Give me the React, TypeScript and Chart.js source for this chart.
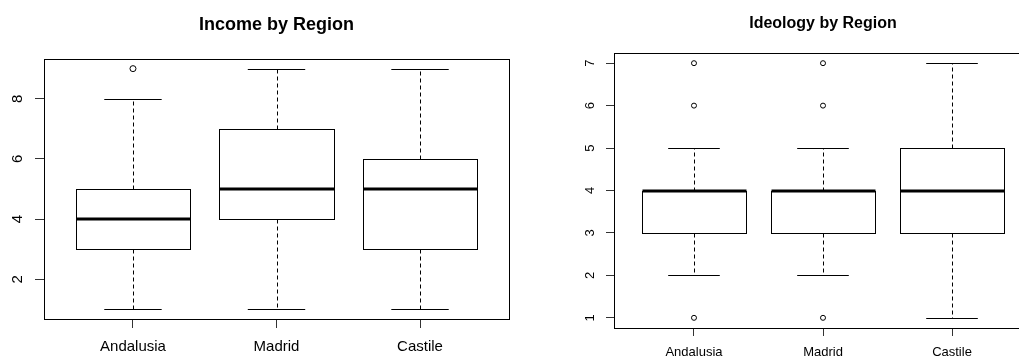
import React, { useEffect, useRef } from "react";
import { Chart, registerables } from "chart.js";

Chart.register(...registerables);

// ---- Data ----
const regions = ["Andalusia", "Madrid", "Castile"];

// Income by Region (box-plot statistics)
const incomeWhiskerLow = [1, 1, 1];
const incomeQ1 = [3, 4, 3];
const incomeMedian = [4, 5, 5];
const incomeQ3 = [5, 7, 6];
const incomeWhiskerHigh = [8, 9, 9];
const incomeOutliers = [[9], [], []];
const incomeTicks = [2, 4, 6, 8];

// Ideology by Region (box-plot statistics)
const ideologyWhiskerLow = [2, 2, 1];
const ideologyQ1 = [3, 3, 3];
const ideologyMedian = [4, 4, 4];
const ideologyQ3 = [4, 4, 5];
const ideologyWhiskerHigh = [5, 5, 7];
const ideologyOutliers = [[1, 6, 7], [1, 6, 7], []];
const ideologyTicks = [1, 2, 3, 4, 5, 6, 7];

const FONT = "'Liberation Sans', Arial, Helvetica, sans-serif";

type PanelCfg = {
  title: string;
  lo: number[];
  q1: number[];
  med: number[];
  q3: number[];
  hi: number[];
  outliers: number[][];
  ticks: number[];
  left: number;
  pad: { left: number; top: number; right: number; bottom: number };
  yWidth: number;
  xHeight: number;
  tickLen: number;
  tickFont: number;
  titleFont: number;
  titleY: number;
  yPad: number;
  xPad: number;
  pointR: number;
};

const panels: PanelCfg[] = [
  {
    title: "Income by Region",
    lo: incomeWhiskerLow,
    q1: incomeQ1,
    med: incomeMedian,
    q3: incomeQ3,
    hi: incomeWhiskerHigh,
    outliers: incomeOutliers,
    ticks: incomeTicks,
    left: 0,
    pad: { left: 0, top: 59, right: 11, bottom: 0 },
    yWidth: 44,
    xHeight: 41,
    tickLen: 9,
    tickFont: 15,
    titleFont: 18,
    titleY: 30,
    yPad: 13,
    xPad: 10,
    pointR: 3,
  },
  {
    title: "Ideology by Region",
    lo: ideologyWhiskerLow,
    q1: ideologyQ1,
    med: ideologyMedian,
    q3: ideologyQ3,
    hi: ideologyWhiskerHigh,
    outliers: ideologyOutliers,
    ticks: ideologyTicks,
    left: 520,
    pad: { left: 0, top: 53, right: 8, bottom: 0 },
    yWidth: 94,
    xHeight: 32,
    tickLen: 8,
    tickFont: 13,
    titleFont: 16,
    titleY: 28,
    yPad: 12,
    xPad: 9,
    pointR: 2.5,
  },
];

function makeBoxPlugin(p: PanelCfg) {
  return {
    id: "rbox",
    beforeDatasetsDraw(chart: any) {
      const { ctx, scales } = chart;
      const x = scales.x;
      const y = scales.y;
      ctx.save();
      ctx.strokeStyle = "#000";
      const line = (x1: number, y1: number, x2: number, y2: number) => {
        ctx.beginPath();
        ctx.moveTo(x1, y1);
        ctx.lineTo(x2, y2);
        ctx.stroke();
      };
      for (let i = 0; i < regions.length; i++) {
        const c = i + 1;
        const cx = Math.round(x.getPixelForValue(c)) + 0.5;
        const bl = x.getPixelForValue(c - 0.4);
        const br = x.getPixelForValue(c + 0.4);
        const sl = x.getPixelForValue(c - 0.2);
        const sr = x.getPixelForValue(c + 0.2);
        const yLo = Math.round(y.getPixelForValue(p.lo[i])) + 0.5;
        const yHi = Math.round(y.getPixelForValue(p.hi[i])) + 0.5;
        const yQ1 = Math.round(y.getPixelForValue(p.q1[i])) + 0.5;
        const yQ3 = Math.round(y.getPixelForValue(p.q3[i])) + 0.5;
        const yMed = Math.round(y.getPixelForValue(p.med[i]));
        ctx.lineWidth = 1;
        // whiskers
        ctx.setLineDash([4, 3]);
        line(cx, yQ3, cx, yHi);
        line(cx, yQ1, cx, yLo);
        ctx.setLineDash([]);
        // staples
        line(sl, yHi, sr, yHi);
        line(sl, yLo, sr, yLo);
        // box
        const l = Math.round(bl) + 0.5;
        const r = Math.round(br) + 0.5;
        ctx.fillStyle = "#fff";
        ctx.fillRect(l, yQ3, r - l, yQ1 - yQ3);
        ctx.strokeRect(l, yQ3, r - l, yQ1 - yQ3);
        // median
        ctx.lineWidth = 3;
        line(l, yMed, r, yMed);
      }
      ctx.restore();
    },
    afterDraw(chart: any) {
      const { ctx, chartArea: a } = chart;
      ctx.save();
      ctx.strokeStyle = "#000";
      ctx.lineWidth = 1;
      ctx.strokeRect(
        Math.round(a.left) + 0.5,
        Math.round(a.top) + 0.5,
        Math.round(a.right - a.left),
        Math.round(a.bottom - a.top)
      );
      ctx.fillStyle = "#000";
      ctx.font = `bold ${p.titleFont}px ${FONT}`;
      ctx.textAlign = "center";
      ctx.textBaseline = "alphabetic";
      ctx.fillText(p.title, (a.left + a.right) / 2, p.titleY);
      ctx.restore();
    },
  };
}

function Panel({ p }: { p: PanelCfg }) {
  const ref = useRef<HTMLCanvasElement | null>(null);
  useEffect(() => {
    const all = [...p.lo, ...p.hi, ...p.outliers.flat()];
    const dLo = Math.min(...all);
    const dHi = Math.max(...all);
    const ext = (dHi - dLo) * 0.04;
    const xExt = (regions.length + 0.5 - 0.5) * 0.04;
    const pts = p.outliers.flatMap((vals, i) => vals.map((v) => ({ x: i + 1, y: v })));
    const chart = new Chart(ref.current as HTMLCanvasElement, {
      type: "scatter",
      data: {
        datasets: [
          {
            data: pts,
            pointRadius: p.pointR,
            pointHoverRadius: p.pointR,
            pointBorderWidth: 1,
            pointBorderColor: "#000",
            pointBackgroundColor: "rgba(0,0,0,0)",
            pointStyle: "circle",
          },
        ],
      },
      options: {
        responsive: false,
        animation: false,
        events: [],
        layout: { padding: p.pad },
        plugins: {
          legend: { display: false },
          tooltip: { enabled: false },
          title: { display: false },
        },
        scales: {
          x: {
            type: "linear",
            min: 0.5 - xExt,
            max: regions.length + 0.5 + xExt,
            afterBuildTicks: (s: any) => {
              s.ticks = regions.map((_, i) => ({ value: i + 1 }));
            },
            afterFit: (s: any) => {
              s.height = p.xHeight;
            },
            grid: {
              display: true,
              drawOnChartArea: false,
              drawTicks: true,
              tickLength: p.tickLen,
              color: "#333",
            },
            border: { display: false },
            ticks: {
              autoSkip: false,
              maxRotation: 0,
              minRotation: 0,
              padding: p.xPad,
              color: "#000",
              font: { family: FONT, size: p.tickFont },
              callback: (v: any) => regions[Number(v) - 1] ?? "",
            },
          },
          y: {
            type: "linear",
            min: dLo - ext,
            max: dHi + ext,
            afterBuildTicks: (s: any) => {
              s.ticks = p.ticks.map((v) => ({ value: v }));
            },
            afterFit: (s: any) => {
              s.width = p.yWidth;
            },
            grid: {
              display: true,
              drawOnChartArea: false,
              drawTicks: true,
              tickLength: p.tickLen,
              color: "#333",
            },
            border: { display: false },
            ticks: {
              autoSkip: false,
              minRotation: 90,
              maxRotation: 90,
              crossAlign: "center",
              padding: p.yPad,
              color: "#000",
              font: { family: FONT, size: p.tickFont },
              callback: (v: any) => String(v),
            },
          },
        },
      },
      plugins: [makeBoxPlugin(p)],
    } as any);
    return () => chart.destroy();
  }, []);
  return (
    <canvas
      ref={ref}
      width={520}
      height={360}
      style={{ position: "absolute", left: p.left, top: 0, width: 520, height: 360, display: "block" }}
    />
  );
}

export default function App() {
  return (
    <div
      style={{
        position: "absolute",
        left: 0,
        top: 0,
        width: 1019,
        height: 360,
        overflow: "hidden",
        background: "#fff",
      }}
    >
      {panels.map((p) => (
        <Panel key={p.title} p={p} />
      ))}
    </div>
  );
}
